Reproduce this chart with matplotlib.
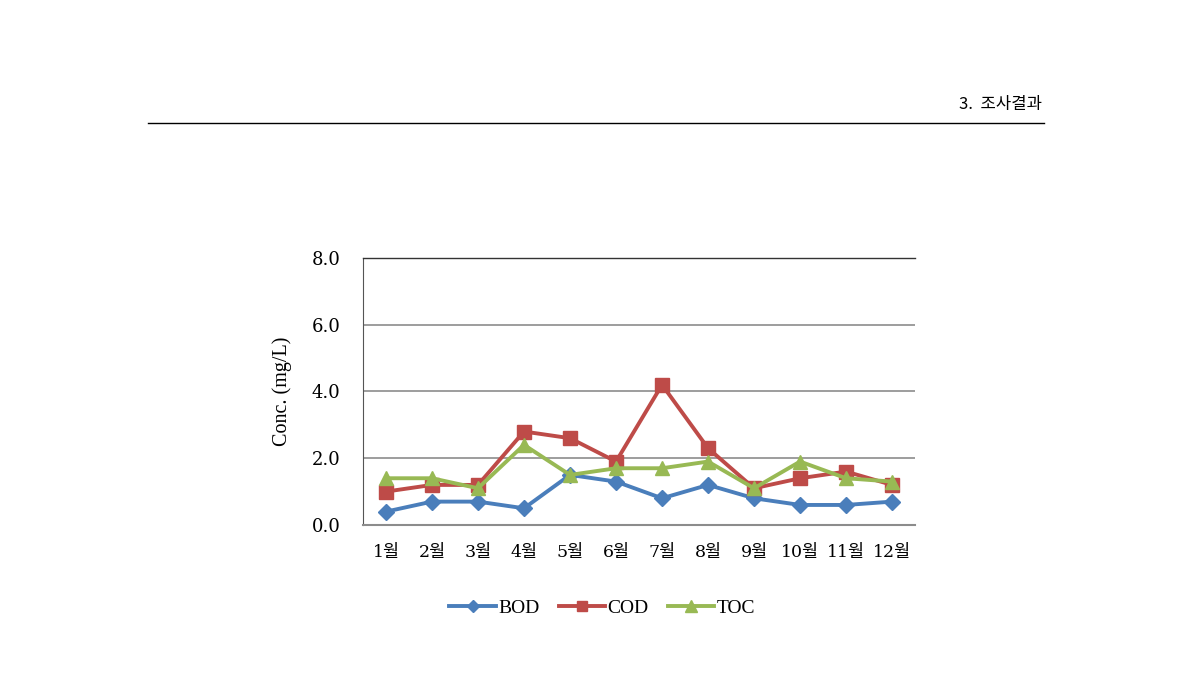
import matplotlib
matplotlib.use("Agg")
import matplotlib.pyplot as plt
from matplotlib.lines import Line2D

plt.rcParams["font.family"] = ["DejaVu Serif", "Noto Sans CJK KR"]

months = ["1월", "2월", "3월", "4월", "5월", "6월", "7월", "8월", "9월", "10월", "11월", "12월"]
bod = [0.4, 0.7, 0.7, 0.5, 1.5, 1.3, 0.8, 1.2, 0.8, 0.6, 0.6, 0.7]
cod = [1.0, 1.2, 1.2, 2.8, 2.6, 1.9, 4.2, 2.3, 1.1, 1.4, 1.6, 1.2]
toc = [1.4, 1.4, 1.1, 2.4, 1.5, 1.7, 1.7, 1.9, 1.1, 1.9, 1.4, 1.3]
yticks = [0.0, 2.0, 4.0, 6.0, 8.0]

series = [
    ("BOD", bod, "#4A7EBB", "D", 8),
    ("COD", cod, "#BE4B48", "s", 9.5),
    ("TOC", toc, "#98B954", "^", 10),
]

fig = plt.figure(figsize=(11.9, 6.76), dpi=100)
ax = fig.add_axes([0.305, 0.2234, 0.464, 0.3950])

x = list(range(len(months)))
for name, vals, color, marker, ms in series:
    ax.plot(x, vals, color=color, lw=2.8, marker=marker, markersize=ms,
            markeredgecolor=color, label=name, clip_on=False, zorder=3)

ax.set_xlim(-0.5, len(months) - 0.5)
ax.set_ylim(0, 8)
ax.set_yticks(yticks)
ax.set_yticklabels([f"{v:.1f}" for v in yticks], fontsize=13)
ax.set_xticks(x)
ax.set_xticklabels(months, fontsize=12.5)
ax.tick_params(axis="x", length=0, pad=14)
ax.tick_params(axis="y", length=0, pad=16)
ax.yaxis.grid(True, color="#8c8c8c", lw=1.2)
ax.set_axisbelow(True)
ax.spines["right"].set_visible(False)
ax.spines["top"].set_color("#333333")
ax.spines["top"].set_linewidth(1.0)
ax.spines["left"].set_color("#555555")
ax.spines["bottom"].set_color("#8c8c8c")
ax.spines["bottom"].set_linewidth(1.5)

ax.set_ylabel("Conc. (mg/L)", fontsize=14.5, labelpad=14,
              family=["Liberation Serif", "DejaVu Serif"])

handles = [Line2D([0], [0], color=c, lw=2.8, marker=m, markersize=ms * 0.8,
                  markeredgecolor=c) for _, _, c, m, ms in series]
fig.legend(handles, [n for n, *_ in series], loc="center", ncol=3,
           bbox_to_anchor=(0.506, 0.101), frameon=False,
           prop={"family": ["Liberation Serif", "DejaVu Serif"], "size": 14},
           handlelength=2.4, handletextpad=0.1, columnspacing=1.0)

# page header
fig.text(0.876, 0.846, "3.  조사결과", ha="right", va="center", fontsize=12,
         family=["Noto Sans CJK KR", "DejaVu Sans"])
fig.add_artist(Line2D([0.124, 0.877], [0.818, 0.818], color="black", lw=1.0))

fig.savefig("out.png", dpi=100)
